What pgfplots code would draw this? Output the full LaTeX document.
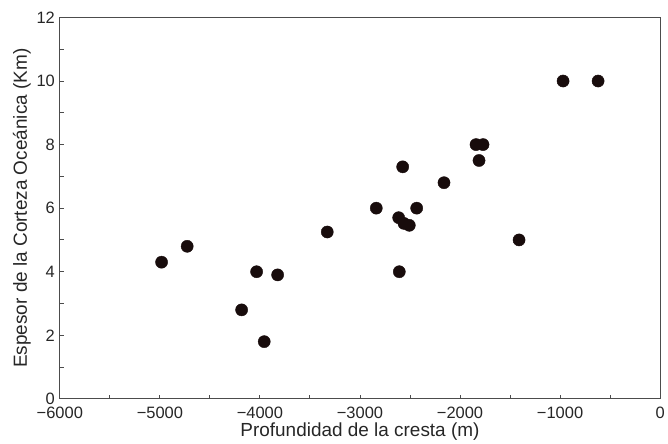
\documentclass[border=0pt]{standalone}
\usepackage{pgfplots}
\pgfplotsset{compat=1.18}
\usepackage{fontspec}
\setmainfont{Liberation Sans}
\definecolor{dot}{RGB}{24,12,12}
\begin{document}
\begin{tikzpicture}
\begin{axis}[
  width=602pt, height=382.5pt, scale only axis,
  xmin=-6000, xmax=0, ymin=0, ymax=12,
  xtick={-6000,-5000,...,0},
  xticklabels={−6000,−5000,−4000,−3000,−2000,−1000,0},
  minor x tick num=1,
  ytick={0,2,...,12}, minor y tick num=1,
  tick align=inside, xtick pos=bottom, ytick pos=left,
  major tick length=4pt, minor tick length=4pt,
  tick style={black!70, line width=0.9pt},
  ticklabel style={font=\fontsize{16.5}{18}\selectfont, text=black!85},
  xticklabel style={anchor=base, yshift=-20pt},
  yticklabel style={xshift=-1.5pt},
  /pgf/number format/assume math mode=true,
  /pgf/number format/1000 sep={},
  xlabel={Profundidad de la cresta (m)},
  ylabel={Espesor de la Corteza Oceánica (Km)},
  label style={font=\fontsize{19}{22}\selectfont, text=black!85},
  xlabel style={at={(axis description cs:0.5,-0.0993)}, anchor=base},
  ylabel style={at={(axis description cs:-0.0631,0.5)}, anchor=center, rotate=0},
  axis line style={draw=black!70, line width=1.1pt},
  clip=false,
]
\addplot[only marks, mark=*, mark size=6.1pt, dot, mark options={draw=dot, fill=dot}] coordinates {
(-4983,4.30) (-4727,4.80) (-4183,2.80) (-4033,4.00) (-3957,1.80) (-3823,3.90)
(-3327,5.25) (-2837,6.00) (-2607,4.00) (-2613,5.70) (-2573,7.30) (-2560,5.52)
(-2507,5.46) (-2433,6.00) (-2160,6.80) (-1840,8.00) (-1770,8.00) (-1810,7.50)
(-1410,5.00) (-970,10.00) (-620,10.00)
};
\end{axis}
\path[use as bounding box] (-60pt,-43pt) rectangle (608pt,400pt);
\end{tikzpicture}
\end{document}
